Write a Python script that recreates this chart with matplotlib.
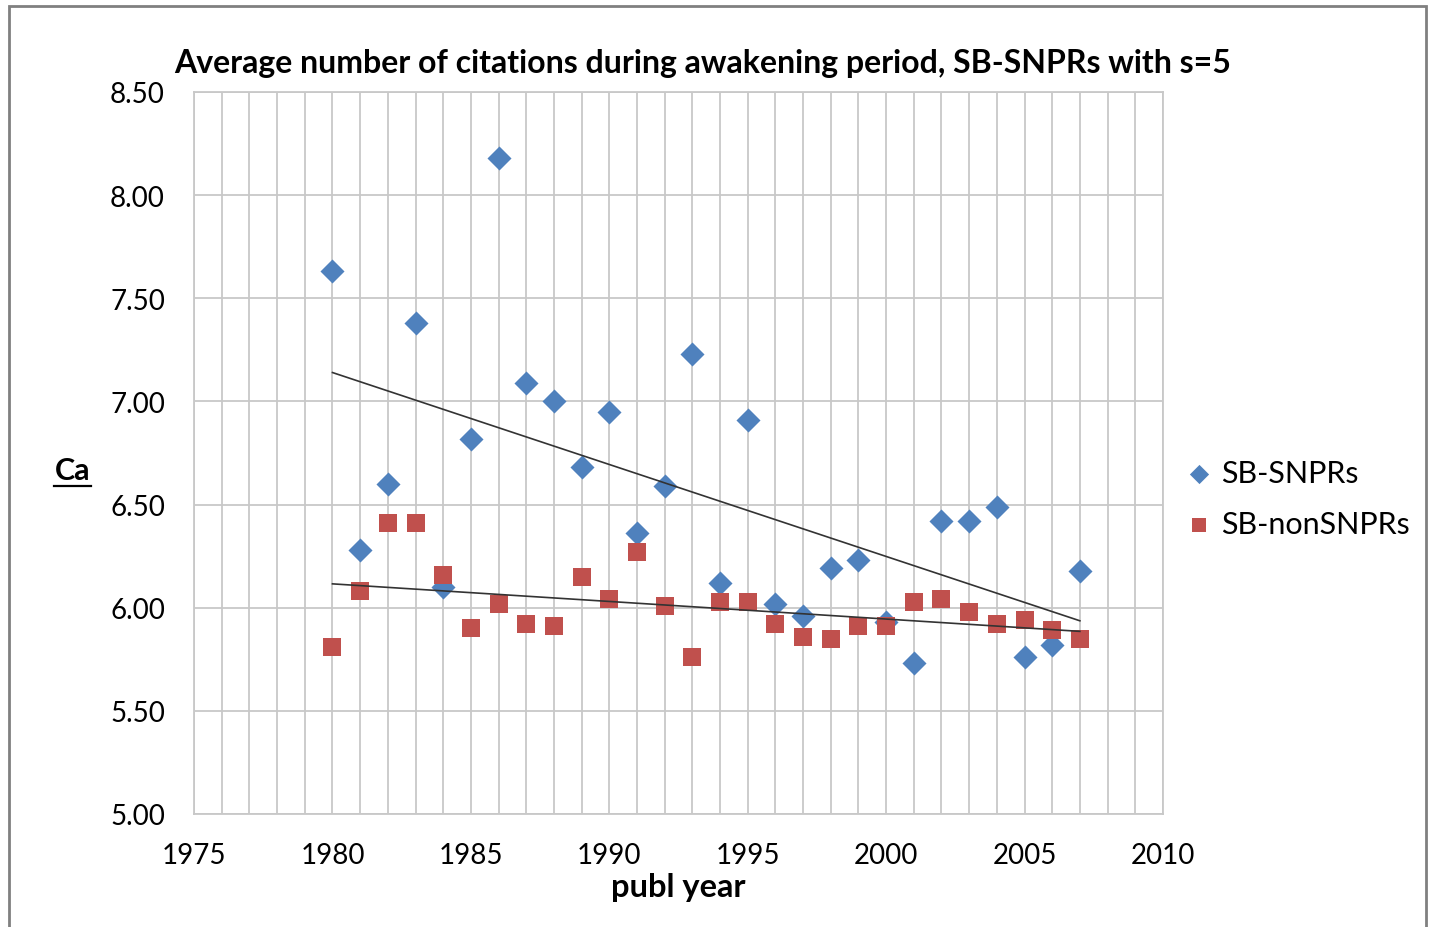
import numpy as np
import matplotlib
matplotlib.use("Agg")
import matplotlib.pyplot as plt
from matplotlib.patches import Rectangle

years = list(range(1980, 2008))
snpr = [7.63, 6.28, 6.60, 7.38, 6.10, 6.82, 8.18, 7.09, 7.00, 6.68,
        6.95, 6.36, 6.59, 7.23, 6.12, 6.91, 6.02, 5.96, 6.19, 6.23,
        5.93, 5.73, 6.42, 6.42, 6.49, 5.76, 5.82, 6.18]
nonsnpr = [5.81, 6.08, 6.41, 6.41, 6.16, 5.90, 6.02, 5.92, 5.91, 6.15,
           6.04, 6.27, 6.01, 5.76, 6.03, 6.03, 5.92, 5.86, 5.85, 5.91,
           5.91, 6.03, 6.04, 5.98, 5.92, 5.94, 5.89, 5.85]
xticks = [1975, 1980, 1985, 1990, 1995, 2000, 2005, 2010]
yticks = [5.00, 5.50, 6.00, 6.50, 7.00, 7.50, 8.00, 8.50]

plt.rcParams['font.family'] = ['Lato', 'DejaVu Sans']

fig = plt.figure(figsize=(14.29, 9.28), dpi=100)
ax = fig.add_axes([0.1358, 0.1218, 0.678, 0.778])

x = np.array(years, dtype=float)
ax.scatter(x, snpr, marker='D', s=150, color='#4F81BD', zorder=3, label='SB-SNPRs', linewidths=0)
ax.scatter(x, nonsnpr, marker='s', s=170, color='#C0504D', zorder=3, label='SB-nonSNPRs', linewidths=0)

for vals in (snpr, nonsnpr):
    p = np.polyfit(x, vals, 1)
    xx = np.array([x[0], x[-1]])
    ax.plot(xx, np.polyval(p, xx), color='#333333', lw=1.2, zorder=4)

ax.set_xlim(1975, 2010)
ax.set_ylim(5.0, 8.5)
ax.set_xticks(xticks)
ax.set_xticks(np.arange(1975, 2011, 1), minor=True)
ax.set_yticks(yticks)
ax.set_yticklabels([f"{v:.2f}" for v in yticks])
ax.grid(True, which='both', axis='x', color='#C8C8C8', lw=1.3)
ax.grid(True, which='major', axis='y', color='#C8C8C8', lw=1.3)
ax.set_axisbelow(True)
for s in ax.spines.values():
    s.set_color('#C8C8C8')
    s.set_linewidth(1.3)
ax.tick_params(which='both', length=0, labelsize=20)
ax.tick_params(axis='y', pad=21)
ax.tick_params(axis='x', pad=20)

fig.text(0.492, 0.932, "Average number of citations during awakening period, SB-SNPRs with s=5",
         fontsize=23, fontweight='bold', ha='center', va='center')
ax.set_xlabel("publ year", fontsize=23.5, fontweight='bold', labelpad=3)
fig.text(0.0505, 0.492, "Ca", fontsize=22, fontweight='bold', ha='center', va='center')
fig.add_artist(plt.Line2D([0.038, 0.0635], [0.475, 0.475], color='black', lw=1.6))

leg = ax.legend(loc='center left', bbox_to_anchor=(0.995, 0.437), frameon=False,
                fontsize=22, handletextpad=0.25, labelspacing=0.75, markerscale=0.8,
                handlelength=0.9)

fig.add_artist(Rectangle((0.006, -0.01), 0.992, 1.0025, transform=fig.transFigure,
                         fill=False, edgecolor='#808080', lw=2))

fig.savefig("out.png", dpi=100)
